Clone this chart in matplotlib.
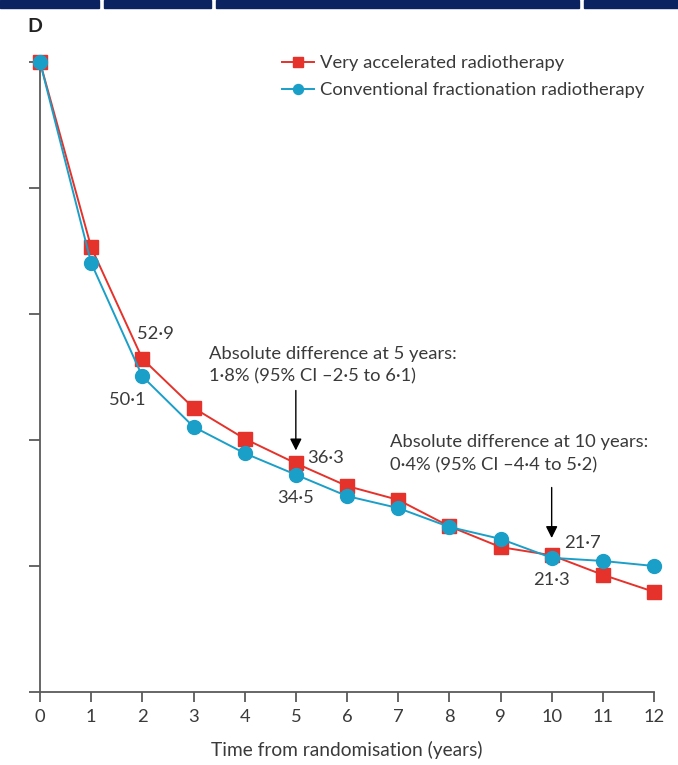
import matplotlib
matplotlib.use("Agg")
import matplotlib.pyplot as plt
from matplotlib.patches import Rectangle

plt.rcParams['font.family'] = ['Lato', 'DejaVu Sans']

# survival (%) by year from randomisation
years = list(range(0, 13))
very_accel = [100, 70.6, 52.9, 45.1, 40.2, 36.3, 32.7, 30.5, 26.3, 23.0, 21.7, 18.6, 15.9]
conventional = [100, 68.1, 50.1, 42.1, 37.9, 34.5, 31.1, 29.2, 26.2, 24.3, 21.3, 20.8, 20.0]

red = '#e5322a'
blue = '#1a9fc8'
txt = '#3a3a3a'
axis_grey = '#5a5a5a'
fs = 13.2

fig = plt.figure(figsize=(6.78, 7.65), dpi=100)
ax = fig.add_axes([40 / 678, 1 - 692 / 765, 614 / 678, 630 / 765])

# strip of dark header boxes along the top edge
for x0, x1 in [(0, 99), (104, 211), (216, 579), (584, 678)]:
    fig.patches.append(Rectangle((x0 / 678, 1 - 8 / 765), (x1 - x0) / 678, 8 / 765,
                                 transform=fig.transFigure, color='#0b2361', zorder=5))

fig.text(27 / 678, 1 - 27 / 765, 'D', fontsize=14, fontweight='bold', color='#222222',
         va='center', ha='left')

ax.plot(years, very_accel, color=red, lw=1.4, marker='s', ms=9.5, mec=red, mfc=red,
        clip_on=False, zorder=3, label='Very accelerated radiotherapy')
ax.plot(years, conventional, color=blue, lw=1.4, marker='o', ms=10, mec=blue, mfc=blue,
        clip_on=False, zorder=4, label='Conventional fractionation radiotherapy')

ax.set_xlim(0, 12)
ax.set_ylim(0, 100)
ax.set_xticks(years)
ax.set_yticks([0, 20, 40, 60, 80, 100])
ax.set_yticklabels([])
ax.tick_params(axis='both', direction='out', length=8, width=1.3, color=axis_grey,
               labelsize=fs, labelcolor=txt)
ax.tick_params(axis='x', length=7, pad=5)
for side in ['top', 'right']:
    ax.spines[side].set_visible(False)
for side in ['left', 'bottom']:
    ax.spines[side].set_color(axis_grey)
    ax.spines[side].set_linewidth(1.3)
ax.set_xlabel('Time from randomisation (years)', fontsize=fs + 0.6, color=txt, labelpad=12)

# value labels at 2, 5 and 10 years
lab = dict(fontsize=fs, color=txt)
ax.annotate('52·9', (2, very_accel[2]), xytext=(-4, 18), textcoords='offset points',
            ha='left', va='center', **lab)
ax.annotate('50·1', (2, conventional[2]), xytext=(-11, -17), textcoords='offset points',
            ha='center', va='center', **lab)
ax.annotate('36·3', (5, very_accel[5]), xytext=(8, 4), textcoords='offset points',
            ha='left', va='center', **lab)
ax.annotate('34·5', (5, conventional[5]), xytext=(0, -17), textcoords='offset points',
            ha='center', va='center', **lab)
ax.annotate('21·7', (10, very_accel[10]), xytext=(9, 9), textcoords='offset points',
            ha='left', va='center', **lab)
ax.annotate('21·3', (10, conventional[10]), xytext=(0, -16), textcoords='offset points',
            ha='center', va='center', **lab)

# arrows pointing to the 5 and 10 year differences
arrow = dict(arrowstyle='-|>,head_length=0.7,head_width=0.35', color='black', lw=1.0)
ax.annotate('', xy=(5, very_accel[5] + 1.6), xytext=(5, very_accel[5] + 12.0),
            arrowprops=arrow)
ax.annotate('', xy=(10, very_accel[10] + 2.3), xytext=(10, very_accel[10] + 11.2),
            arrowprops=arrow)

ax.text(3.3, 55.0, 'Absolute difference at 5 years:\n1·8% (95% CI –2·5 to 6·1)',
        fontsize=fs, color=txt, ha='left', va='top', linespacing=1.55)
ax.text(6.85, 41.0, 'Absolute difference at 10 years:\n0·4% (95% CI –4·4 to 5·2)',
        fontsize=fs, color=txt, ha='left', va='top', linespacing=1.55)

fig.legend(loc='upper left', bbox_to_anchor=(282 / 678, 1 - 55 / 765),
           bbox_transform=fig.transFigure, frameon=False, fontsize=fs,
           handlelength=1.75, handletextpad=0.3, labelspacing=0.6, borderpad=0,
           borderaxespad=0, labelcolor=txt, markerscale=0.72)

fig.savefig('out.png', dpi=100)
